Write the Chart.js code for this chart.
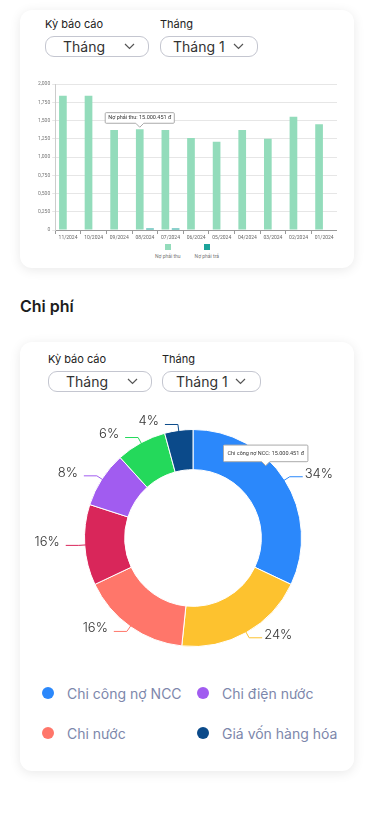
<!doctype html>
<html lang="vi">
<head>
<meta charset="utf-8">
<meta name="viewport" content="width=device-width, initial-scale=1">
<title>Công nợ - Chi phí</title>
<script src="https://cdn.jsdelivr.net/npm/chart.js"></script>
<style>
  body { margin: 0; background: #fff; font-family: Inter, "Noto Sans", sans-serif; color: #222; }
  .page { position: relative; width: 375px; height: 815px; }
  .card { position: absolute; left: 20px; width: 334px; background: #fff; border-radius: 12px;
          box-shadow: 0 2px 12px rgba(0,0,0,0.09); }
  .lbl { position: absolute; font-size: 11px; color: #222; line-height: 14px; }
  .sel { position: absolute; height: 21px; box-sizing: border-box; border: 1px solid #c4c6d0; border-radius: 9px;
         font-size: 14px; color: #333; line-height: 19px; padding-left: 17px; }
  .sel svg { position: absolute; top: 6px; }
  h2 { position: absolute; left: 20px; top: 296px; margin: 0; font-size: 16px; font-weight: 600; color: #1d1d1d; }
  .bar-legend { position: absolute; left: 0; width: 334px; top: 234px; display: flex; justify-content: center; gap: 14px; }
  .bar-legend div { display: flex; flex-direction: column; align-items: center; font-size: 5px; color: #777; font-family: Roboto, sans-serif; }
  .bar-legend span { width: 6px; height: 6px; margin-bottom: 3px; }
  .pie-legend { position: absolute; left: 22px; top: 342px; display: grid; grid-template-columns: 155px 150px; row-gap: 22px; }
  .pie-legend div { display: flex; align-items: center; font-size: 14px; color: #7d87ab; height: 18px; }
  .pie-legend span { width: 12px; height: 12px; border-radius: 50%; margin-right: 13px; }
</style>
</head>
<body>
<div class="page">
  <div class="card" style="top:10px;height:258px;">
    <div class="lbl" style="left:25px;top:7px;">Kỳ báo cáo</div>
    <div class="lbl" style="left:140px;top:7px;">Tháng</div>
    <div class="sel" style="left:25px;top:26px;width:104px;">Tháng
      <svg style="left:78px" width="11" height="7" viewBox="0 0 11 7"><path d="M1 1l4.5 4.5L10 1" fill="none" stroke="#555" stroke-width="1.2"/></svg></div>
    <div class="sel" style="left:140px;top:26px;width:98px;padding-left:12px;">Tháng 1
      <svg style="left:72px" width="11" height="7" viewBox="0 0 11 7"><path d="M1 1l4.5 4.5L10 1" fill="none" stroke="#555" stroke-width="1.2"/></svg></div>
    <div style="position:absolute;left:16px;top:69px;width:301px;height:163px;">
      <canvas id="barChart"></canvas>
    </div>
    <div class="bar-legend" id="barLegend"></div>
  </div>

  <h2>Chi phí</h2>

  <div class="card" style="top:342px;height:429px;">
    <div class="lbl" style="left:28px;top:10px;">Kỳ báo cáo</div>
    <div class="lbl" style="left:142px;top:10px;">Tháng</div>
    <div class="sel" style="left:28px;top:29px;width:104px;">Tháng
      <svg style="left:78px" width="11" height="7" viewBox="0 0 11 7"><path d="M1 1l4.5 4.5L10 1" fill="none" stroke="#555" stroke-width="1.2"/></svg></div>
    <div class="sel" style="left:142px;top:29px;width:99px;padding-left:13px;">Tháng 1
      <svg style="left:72px" width="11" height="7" viewBox="0 0 11 7"><path d="M1 1l4.5 4.5L10 1" fill="none" stroke="#555" stroke-width="1.2"/></svg></div>
    <div style="position:absolute;left:0;top:64px;width:334px;height:256px;">
      <canvas id="pieChart"></canvas>
    </div>
    <div class="pie-legend" id="pieLegend"></div>
  </div>
</div>

<script>
// ---- bar chart data ----
const months = ['11/2024', '10/2024', '09/2024', '08/2024', '07/2024', '06/2024', '05/2024', '04/2024', '03/2024', '02/2024', '01/2024'];
const noPhaiThu = [1.84, 1.84, 1.37, 1.38, 1.37, 1.26, 1.21, 1.37, 1.25, 1.55, 1.45];
const noPhaiTra = [0, 0, 0, 0.02, 0.02, 0, 0, 0, 0, 0, 0];
const yTickLabels = ['0', '0,250', '0,500', '0,750', '1,000', '1,250', '1,500', '1,750', '2,000'];
const barSeriesNames = ['Nợ phải thu', 'Nợ phải trả'];
const barColors = ['#93dcbb', '#1ba39a'];
const barTooltipAmount = '15.000.451 đ';

// ---- doughnut data ----
const costNames = ['Chi công nợ NCC', 'Chi lương', 'Chi nước', 'Chi thuê mặt bằng', 'Chi điện nước', 'Chi khác', 'Giá vốn hàng hóa'];
const costValues = [32, 19.6, 16.3, 12, 8.3, 7.5, 4.2];
const costPercentLabels = ['34%', '24%', '16%', '16%', '8%', '6%', '4%'];
const costColors = ['#2b88fb', '#fdc22f', '#ff766a', '#d9265a', '#a15cf0', '#24d95b', '#0b4a8a'];
const pieLegendOrder = [0, 4, 2, 6];
const pieTooltipAmount = '15.000.451 đ';

// tooltip sits a little above the arc centre, like the screenshot
Chart.Tooltip.positioners.raised = function (items) {
  if (!items.length) return false;
  const p = items[0].element.tooltipPosition();
  return { x: p.x - 2, y: p.y - 23 };
};

const tooltipStyle = {
  backgroundColor: '#fff',
  borderColor: '#aaa',
  borderWidth: 1,
  bodyColor: '#333',
  cornerRadius: 1,
  displayColors: false,
  caretSize: 4,
  yAlign: 'bottom'
};

const barChart = new Chart(document.getElementById('barChart'), {
  type: 'bar',
  data: {
    labels: months,
    datasets: [
      { label: barSeriesNames[0], data: noPhaiThu, backgroundColor: barColors[0], barPercentage: 0.75 },
      { label: barSeriesNames[1], data: noPhaiTra, backgroundColor: barColors[1], barPercentage: 0.75 }
    ]
  },
  options: {
    animation: false,
    maintainAspectRatio: false,
    events: [],
    plugins: {
      legend: { display: false },
      tooltip: Object.assign({}, tooltipStyle, {
        bodyFont: { size: 5.5, family: 'Roboto' },
        padding: { x: 3, y: 2 },
        callbacks: { title: () => '', label: ctx => ctx.dataset.label + ': ' + barTooltipAmount }
      })
    },
    scales: {
      x: {
        grid: { drawOnChartArea: false, tickLength: 4, color: '#999' },
        border: { color: '#999' },
        ticks: { font: { size: 5, family: 'Roboto' }, color: '#666', maxRotation: 0, autoSkip: false, padding: 1 }
      },
      y: {
        min: 0, max: 2,
        grid: { color: '#e6e6e6', tickLength: 3 },
        border: { color: '#ccc' },
        ticks: { stepSize: 0.25, font: { size: 5, family: 'Roboto' }, color: '#777', padding: 2,
                 callback: (v, i) => yTickLabels[i] }
      }
    }
  }
});
barChart.tooltip.setActiveElements([{ datasetIndex: 0, index: 3 }], { x: 0, y: 0 });
barChart.update();

document.getElementById('barLegend').innerHTML = barSeriesNames.map((n, i) =>
  `<div><span style="background:${barColors[i]}"></span>${n}</div>`).join('');

// leader lines + percent labels around the doughnut
const outLabels = {
  id: 'outLabels',
  afterDatasetsDraw(chart) {
    const ctx = chart.ctx;
    const meta = chart.getDatasetMeta(0);
    ctx.save();
    ctx.font = '300 13px Inter, sans-serif';
    ctx.textBaseline = 'middle';
    meta.data.forEach((arc, i) => {
      const mid = (arc.startAngle + arc.endAngle) / 2;
      const c = Math.cos(mid), s = Math.sin(mid);
      const r = arc.outerRadius;
      const x0 = arc.x + c * (r - 1), y0 = arc.y + s * (r - 1);
      const x1 = arc.x + c * (r + 6), y1 = arc.y + s * (r + 6);
      const dir = c >= 0 ? 1 : -1;
      const x2 = x1 + dir * 13;
      ctx.strokeStyle = costColors[i];
      ctx.lineWidth = 1;
      ctx.beginPath();
      ctx.moveTo(x0, y0); ctx.lineTo(x1, y1); ctx.lineTo(x2, y1);
      ctx.stroke();
      ctx.fillStyle = '#333';
      ctx.textAlign = dir > 0 ? 'left' : 'right';
      ctx.fillText(costPercentLabels[i], x2 + (dir > 0 ? 2 : -6), y1 - 3);
    });
    ctx.restore();
  }
};

const pieChart = new Chart(document.getElementById('pieChart'), {
  type: 'doughnut',
  data: {
    labels: costNames,
    datasets: [{ data: costValues, backgroundColor: costColors, borderWidth: 1, borderColor: '#fff' }]
  },
  options: {
    animation: false,
    maintainAspectRatio: false,
    events: [],
    cutout: '63%',
    layout: { padding: { left: 60, right: 48, top: 23, bottom: 15 } },
    plugins: {
      legend: { display: false },
      tooltip: Object.assign({}, tooltipStyle, {
        position: 'raised',
        bodyFont: { size: 5.5, family: 'Roboto' },
        padding: { x: 4, y: 5 },
        callbacks: { title: () => '', label: ctx => ctx.label + ': ' + pieTooltipAmount }
      })
    }
  },
  plugins: [outLabels]
});
pieChart.tooltip.setActiveElements([{ datasetIndex: 0, index: 0 }], { x: 0, y: 0 });
pieChart.update();

document.getElementById('pieLegend').innerHTML = pieLegendOrder.map(i =>
  `<div><span style="background:${costColors[i]}"></span>${costNames[i]}</div>`).join('');
</script>
</body>
</html>
